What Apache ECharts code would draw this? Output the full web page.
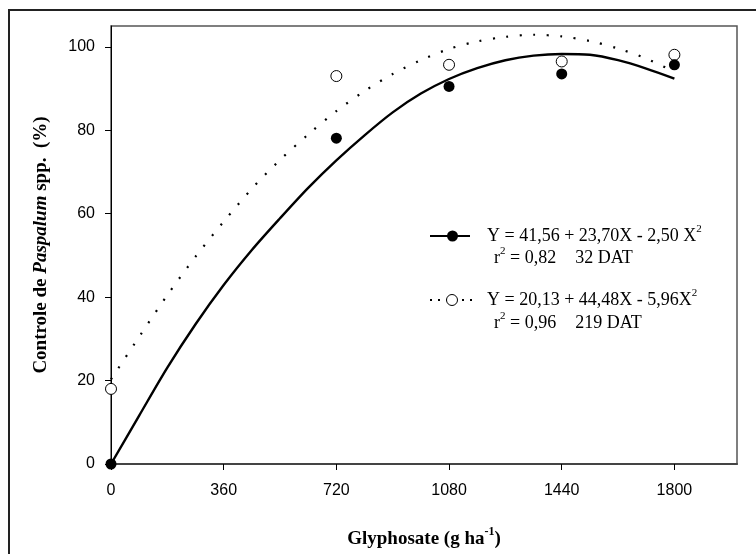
<!DOCTYPE html>
<html>
<head>
<meta charset="utf-8">
<script src="https://cdn.jsdelivr.net/npm/echarts@6/dist/echarts.min.js"></script>
<style>
html,body{margin:0;padding:0;background:#fff;}
#c{width:756px;height:554px;}
</style>
</head>
<body>
<div id="c"></div>
<script>
// Observed points
const doses = [0, 720, 1080, 1440, 1800];
const control32 = [0, 78.1, 90.5, 93.5, 95.7];
const control219 = [18.0, 93.0, 95.7, 96.5, 98.1];
// Fitted curves
const curveX = [0, 90, 180, 270, 360, 450, 540, 630, 720, 810, 900, 990, 1080, 1170, 1260, 1350, 1440, 1530, 1620, 1710, 1800];
const fit32 = [0, 11.6, 23.1, 33.5, 42.9, 51.3, 58.9, 66.2, 72.8, 78.8, 84.3, 88.8, 92.3, 94.9, 96.8, 97.9, 98.3, 98.1, 96.8, 94.8, 92.4];
const fit219 = [20.3, 30.5, 40.5, 49.7, 58.1, 66.0, 72.9, 79.0, 84.6, 89.4, 93.5, 96.8, 99.5, 101.3, 102.4, 102.9, 102.5, 101.4, 99.6, 97.2, 94.0];
// Tick labels
const xTicks = [0, 360, 720, 1080, 1440, 1800];
const yTicks = [0, 20, 40, 60, 80, 100];

const serif = '"Liberation Serif", "Times New Roman", serif';
const sans = '"Liberation Sans", Arial, sans-serif';

const chart = echarts.init(document.getElementById('c'));

function pairs(xs, ys) { return xs.map((x, i) => [x, ys[i]]); }

const rich = {
  n: { fontFamily: serif, fontSize: 18, color: '#000', lineHeight: 24 },
  s: { fontFamily: serif, fontSize: 11, color: '#000', verticalAlign: 'top', lineHeight: 24 },
  g: { width: 19, lineHeight: 24 }
};

chart.setOption({
  animation: false,
  backgroundColor: '#fff',
  grid: { left: 111, top: 26, right: 19, bottom: 90, show: true, borderColor: '#555', borderWidth: 1.5 },
  xAxis: {
    type: 'value', min: 0, max: 2000, interval: 360,
    splitLine: { show: false },
    axisLine: { show: true, lineStyle: { color: '#444', width: 2 } },
    axisTick: { show: true, customValues: xTicks, length: 6, inside: false, lineStyle: { color: '#000', width: 1 } },
    axisLabel: { customValues: xTicks, margin: 19, fontFamily: sans, fontSize: 16, color: '#000', formatter: v => String(v) },
    name: '{b|Glyphosate (g ha}{s|-1}{b|)}',
    nameLocation: 'middle', nameGap: 62,
    nameTextStyle: {
      rich: {
        b: { fontFamily: serif, fontSize: 19, fontWeight: 'bold', color: '#000', lineHeight: 26 },
        s: { fontFamily: serif, fontSize: 12, fontWeight: 'bold', color: '#000', verticalAlign: 'top', lineHeight: 26 }
      }
    }
  },
  yAxis: {
    type: 'value', min: 0, max: 105, interval: 20,
    splitLine: { show: false },
    axisLine: { show: true, lineStyle: { color: '#000', width: 1 } },
    axisTick: { show: true, customValues: yTicks, length: 6, inside: false, lineStyle: { color: '#000', width: 1 } },
    axisLabel: { customValues: yTicks, margin: 16, fontFamily: sans, fontSize: 16, color: '#000', formatter: v => String(v) },
    name: '{b|Controle de }{i|Paspalum}{b| spp.  (%)}',
    nameLocation: 'middle', nameGap: 60, nameRotate: 90,
    nameTextStyle: {
      rich: {
        b: { fontFamily: serif, fontSize: 19, fontWeight: 'bold', color: '#000' },
        i: { fontFamily: serif, fontSize: 19, fontWeight: 'bold', fontStyle: 'italic', color: '#000' }
      }
    }
  },
  series: [
    {
      type: 'line', data: pairs(curveX, fit219), smooth: 0.3, symbol: 'none', clip: false,
      lineStyle: { color: '#000', width: 2.2, type: [2, 11.5], cap: 'butt' }, z: 2
    },
    {
      type: 'line', data: pairs(curveX, fit32), smooth: 0.3, symbol: 'none', clip: false,
      lineStyle: { color: '#000', width: 2.4 }, z: 2
    },
    {
      type: 'scatter', data: pairs(doses, control219), symbol: 'circle', symbolSize: 11, clip: false,
      itemStyle: { color: '#fff', borderColor: '#000', borderWidth: 1, opacity: 1 }, z: 3
    },
    {
      type: 'scatter', data: pairs(doses, control32), symbol: 'circle', symbolSize: 11, clip: false,
      itemStyle: { color: '#000', opacity: 1 }, z: 4
    }
  ],
  graphic: [
    { type: 'rect', shape: { x: 9, y: 10, width: 800, height: 600 }, style: { fill: null, stroke: '#222', lineWidth: 2 }, silent: true },
    // legend entry 1
    { type: 'line', shape: { x1: 430, y1: 236, x2: 470, y2: 236 }, style: { stroke: '#000', lineWidth: 2 } },
    { type: 'circle', shape: { cx: 452.5, cy: 236, r: 5.5 }, style: { fill: '#000' } },
    { type: 'text', left: 487, top: 224, style: { text: '{n|Y = 41,56 + 23,70X - 2,50 X}{s|2}', rich: rich } },
    { type: 'text', left: 494, top: 246, style: { text: '{n|r}{s|2}{n| = 0,82}{g|}{n|32 DAT}', rich: rich } },
    // legend entry 2
    { type: 'line', shape: { x1: 430, y1: 300, x2: 474, y2: 300 }, style: { stroke: '#000', lineWidth: 2, lineDash: [2, 6] } },
    { type: 'circle', shape: { cx: 452, cy: 300, r: 5.5 }, style: { fill: '#fff', stroke: '#000', lineWidth: 1 } },
    { type: 'text', left: 487, top: 288, style: { text: '{n|Y = 20,13 + 44,48X - 5,96X}{s|2}', rich: rich } },
    { type: 'text', left: 494, top: 311, style: { text: '{n|r}{s|2}{n| = 0,96}{g|}{n|219 DAT}', rich: rich } }
  ]
});
</script>
</body>
</html>
